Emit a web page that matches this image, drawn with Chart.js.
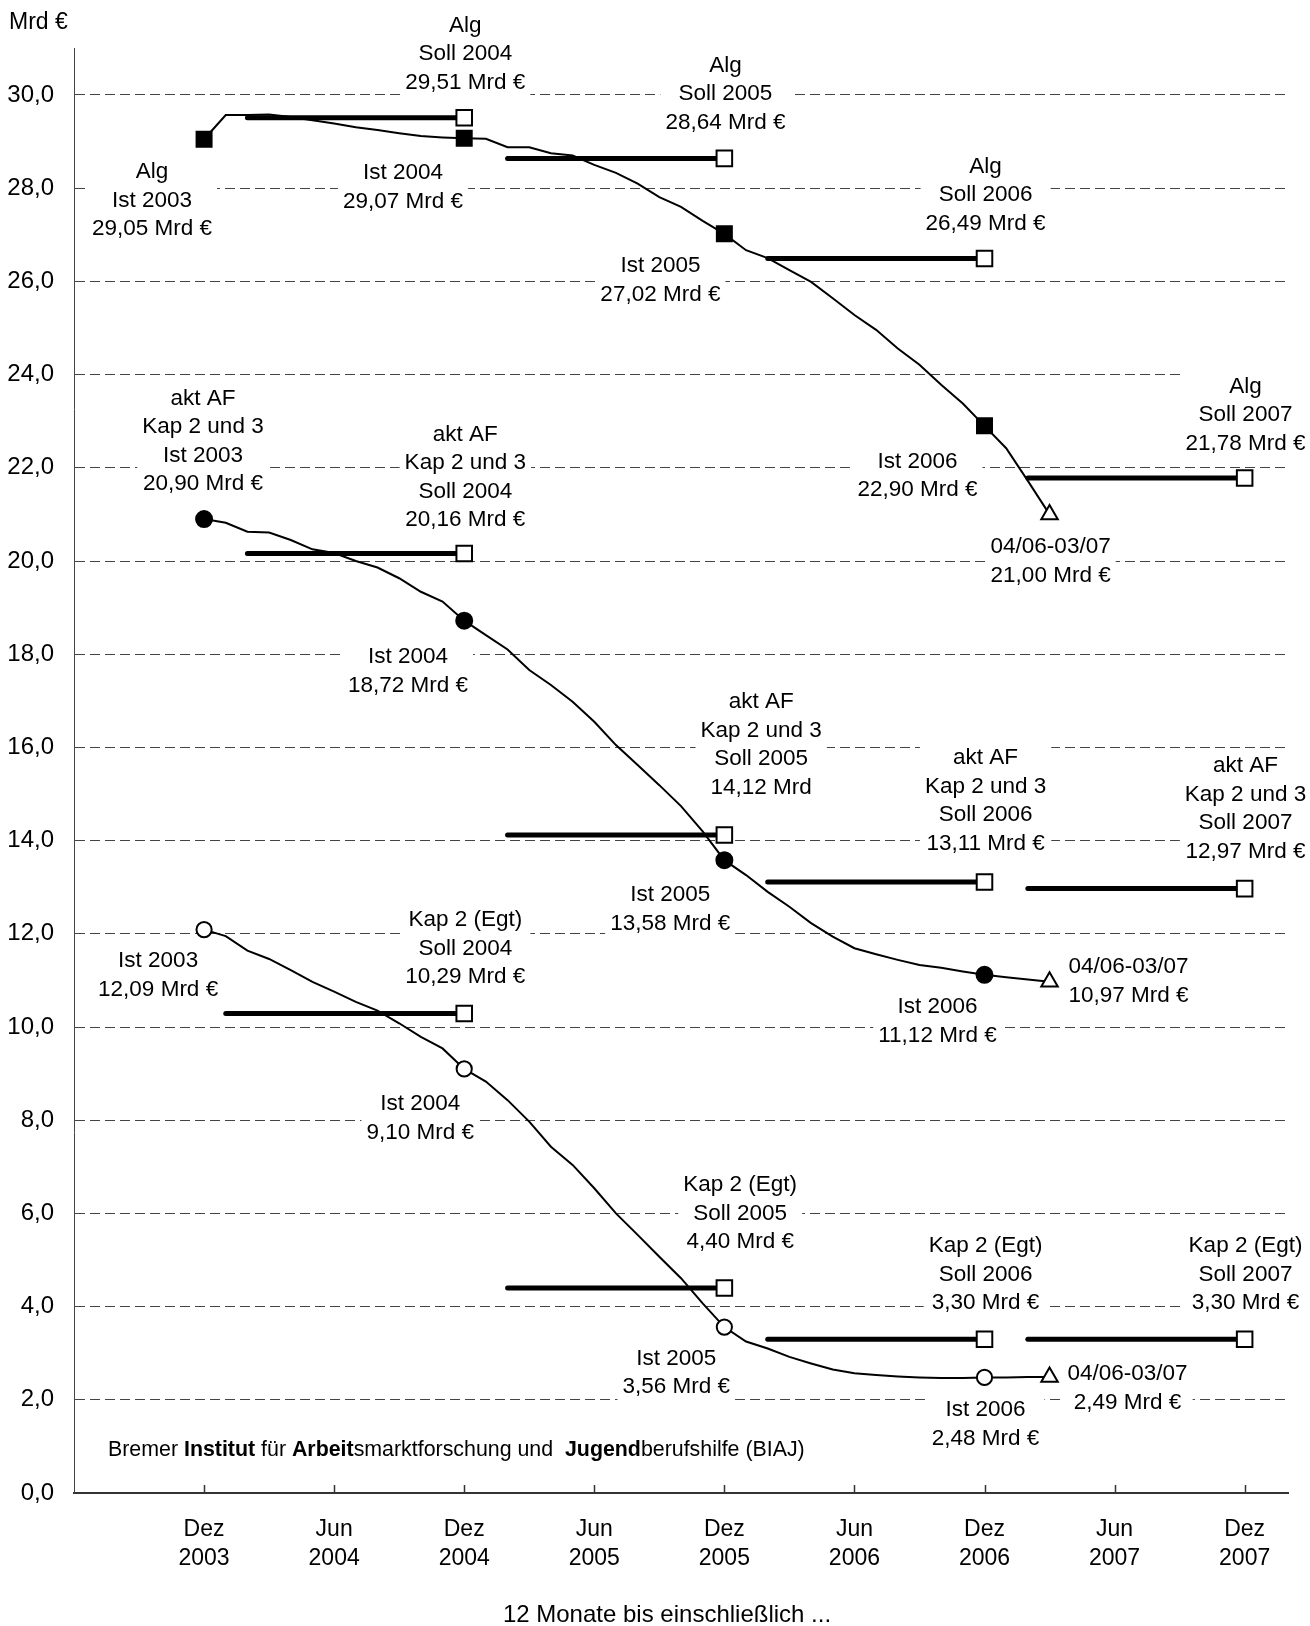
<!DOCTYPE html>
<html>
<head>
<meta charset="utf-8">
<script src="https://cdn.jsdelivr.net/npm/chart.js@4.4.0/dist/chart.umd.min.js"></script>
<style>
  html, body { margin: 0; padding: 0; background: #fff; }
  #wrap { width: 1310px; height: 1626px; }
</style>
</head>
<body>
<div id="wrap"><canvas id="chart" width="1310" height="1626"></canvas></div>
<script>
// 12-Monats-Summen in Mrd €, Index 0 = Dez 2003 ... 39 = Mär 2007
const algIst = [
  29.05, 29.57, 29.57, 29.58, 29.53, 29.46, 29.39, 29.31, 29.25, 29.18, 29.12, 29.09,
  29.07, 29.06, 28.88, 28.88, 28.75, 28.70, 28.50, 28.33, 28.10, 27.81, 27.60, 27.30,
  27.02, 26.67, 26.50, 26.24, 25.99, 25.64, 25.28, 24.96, 24.56, 24.21, 23.78, 23.38,
  22.90, 22.42, 21.72, 21.00
];
const aktIst = [
  20.90, 20.82, 20.63, 20.61, 20.45, 20.25, 20.17, 20.00, 19.86, 19.63, 19.34, 19.13,
  18.72, 18.41, 18.10, 17.66, 17.34, 16.98, 16.55, 16.05, 15.62, 15.19, 14.74, 14.20,
  13.58, 13.26, 12.90, 12.58, 12.23, 11.94, 11.69, 11.56, 11.44, 11.33, 11.27, 11.19,
  11.12, 11.07, 11.02, 10.97
];
const kapIst = [
  12.09, 11.95, 11.64, 11.46, 11.22, 10.97, 10.76, 10.54, 10.35, 10.08, 9.79, 9.54,
  9.10, 8.83, 8.43, 7.97, 7.43, 7.04, 6.54, 6.00, 5.54, 5.07, 4.61, 4.07,
  3.56, 3.25, 3.10, 2.92, 2.78, 2.65, 2.57, 2.53, 2.50, 2.48, 2.47, 2.47,
  2.48, 2.48, 2.49, 2.49
];

// Soll-Werte: Strich von Start- bis Endmonat
const sollEnd = [12, 24, 36, 48];
const algSollStart = [2, 14, 26, 38];
const aktSollStart = [2, 14, 26, 38];
const kapSollStart = [1, 14, 26, 38];
const algSoll = [29.51, 28.64, 26.49, 21.78];
const aktSoll = [20.16, 14.12, 13.11, 12.97];
const kapSoll = [10.29, 4.40, 3.30, 3.30];

const keyMonths = [0, 12, 24, 36];
const lastMonth = 39;

const xTickLabels = [
  ["Dez", "2003"], ["Jun", "2004"], ["Dez", "2004"], ["Jun", "2005"], ["Dez", "2005"],
  ["Jun", "2006"], ["Dez", "2006"], ["Jun", "2007"], ["Dez", "2007"]
];
const yTicks = [0, 2, 4, 6, 8, 10, 12, 14, 16, 18, 20, 22, 24, 26, 28, 30];

// Beschriftungen (x in Monaten, y = erste Zeile in Mrd €)
const notes = [
  { x: -2.40, y: 28.35, lines: ["Alg", "Ist 2003", "29,05 Mrd €"] },
  { x: 12.05, y: 31.49, lines: ["Alg", "Soll 2004", "29,51 Mrd €"] },
  { x: 9.18, y: 28.33, lines: ["Ist 2004", "29,07 Mrd €"] },
  { x: 24.05, y: 30.63, lines: ["Alg", "Soll 2005", "28,64 Mrd €"] },
  { x: 21.05, y: 26.33, lines: ["Ist 2005", "27,02 Mrd €"] },
  { x: 36.05, y: 28.47, lines: ["Alg", "Soll 2006", "26,49 Mrd €"] },
  { x: 32.91, y: 22.13, lines: ["Ist 2006", "22,90 Mrd €"] },
  { x: 39.05, y: 20.30, lines: ["04/06-03/07", "21,00 Mrd €"] },
  { x: 48.04, y: 23.74, lines: ["Alg", "Soll 2007", "21,78 Mrd €"] },

  { x: -0.05, y: 23.49, lines: ["akt AF", "Kap 2 und 3", "Ist 2003", "20,90 Mrd €"] },
  { x: 12.05, y: 22.71, lines: ["akt AF", "Kap 2 und 3", "Soll 2004", "20,16 Mrd €"] },
  { x: 9.41, y: 17.94, lines: ["Ist 2004", "18,72 Mrd €"] },
  { x: 25.70, y: 16.97, lines: ["akt AF", "Kap 2 und 3", "Soll 2005", "14,12 Mrd"] },
  { x: 21.50, y: 12.83, lines: ["Ist 2005", "13,58 Mrd €"] },
  { x: 36.05, y: 15.77, lines: ["akt AF", "Kap 2 und 3", "Soll 2006", "13,11 Mrd €"] },
  { x: 33.83, y: 10.43, lines: ["Ist 2006", "11,12 Mrd €"] },
  { x: 42.64, y: 11.29, lines: ["04/06-03/07", "10,97 Mrd €"] },
  { x: 48.04, y: 15.60, lines: ["akt AF", "Kap 2 und 3", "Soll 2007", "12,97 Mrd €"] },

  { x: -2.12, y: 11.42, lines: ["Ist 2003", "12,09 Mrd €"] },
  { x: 12.05, y: 12.30, lines: ["Kap 2 (Egt)", "Soll 2004", "10,29 Mrd €"] },
  { x: 9.97, y: 8.35, lines: ["Ist 2004", "9,10 Mrd €"] },
  { x: 24.73, y: 6.61, lines: ["Kap 2 (Egt)", "Soll 2005", "4,40 Mrd €"] },
  { x: 21.78, y: 2.88, lines: ["Ist 2005", "3,56 Mrd €"] },
  { x: 36.05, y: 5.30, lines: ["Kap 2 (Egt)", "Soll 2006", "3,30 Mrd €"] },
  { x: 36.05, y: 1.78, lines: ["Ist 2006", "2,48 Mrd €"] },
  { x: 42.60, y: 2.55, lines: ["04/06-03/07", "2,49 Mrd €"] },
  { x: 48.04, y: 5.30, lines: ["Kap 2 (Egt)", "Soll 2007", "3,30 Mrd €"] }
];

const FONT = '"Liberation Sans", Arial, sans-serif';
const LINE_H = 28.5;

function istDataset(values, style, fill, size) {
  return {
    data: values.map((v, i) => ({ x: i, y: v })),
    borderColor: "#000",
    borderWidth: 2,
    tension: 0,
    pointStyle: c => c.dataIndex === lastMonth ? "triangle" : style,
    pointRadius: c => keyMonths.includes(c.dataIndex) ? size : (c.dataIndex === lastMonth ? 9.5 : 0),
    pointBackgroundColor: c => c.dataIndex === lastMonth ? "#fff" : fill,
    pointBorderColor: "#000",
    pointBorderWidth: 2
  };
}

function sollDatasets(starts, values) {
  return values.map((v, i) => ({
    data: [{ x: starts[i], y: v }, { x: sollEnd[i], y: v }],
    borderColor: "#000",
    borderWidth: 5,
    borderCapStyle: "round",
    pointStyle: "rect",
    pointRadius: [0, 11],
    pointBackgroundColor: "#fff",
    pointBorderColor: "#000",
    pointBorderWidth: 2
  }));
}

const datasets = [
  ...sollDatasets(algSollStart, algSoll),
  ...sollDatasets(aktSollStart, aktSoll),
  ...sollDatasets(kapSollStart, kapSoll),
  istDataset(algIst, "rect", "#000", 10.6),
  istDataset(aktIst, "circle", "#000", 8),
  istDataset(kapIst, "circle", "#fff", 7.6)
];

const annotations = {
  id: "annotations",
  beforeDatasetsDraw(chart) {
    const { ctx, scales: { x, y } } = chart;
    ctx.save();
    ctx.font = "22.5px " + FONT;
    ctx.textAlign = "center";
    ctx.textBaseline = "middle";
    notes.forEach(n => {
      const cx = x.getPixelForValue(n.x);
      const cy = y.getPixelForValue(n.y);
      const w = Math.max(...n.lines.map(t => ctx.measureText(t).width));
      ctx.fillStyle = "#fff";
      ctx.fillRect(cx - w / 2 - 5, cy - LINE_H / 2 + 1, w + 10, n.lines.length * LINE_H - 2);
      ctx.fillStyle = "#000";
      n.lines.forEach((t, i) => ctx.fillText(t, cx, cy + i * LINE_H));
    });
    ctx.restore();
  },
  afterDraw(chart) {
    const { ctx, chartArea, scales: { x } } = chart;
    ctx.save();
    // kleine Teilstriche nach innen
    ctx.strokeStyle = "#333";
    ctx.lineWidth = 1.5;
    xTickLabels.forEach((l, i) => {
      const px = Math.round(x.getPixelForValue(i * 6)) + 0.5;
      ctx.beginPath();
      ctx.moveTo(px, chartArea.bottom);
      ctx.lineTo(px, chartArea.bottom - 8);
      ctx.stroke();
    });

    ctx.fillStyle = "#000";
    ctx.textBaseline = "middle";
    ctx.font = "23px " + FONT;
    ctx.textAlign = "left";
    ctx.fillText("Mrd €", 9, 23);

    ctx.font = "24px " + FONT;
    ctx.textAlign = "center";
    ctx.fillText("12 Monate bis einschließlich ...", 667, 1615);

    // Quelle mit fett gesetzten Wortteilen
    const parts = [
      ["Bremer ", false], ["Institut", true], [" für ", false], ["Arbeit", true],
      ["smarktforschung und  ", false], ["Jugend", true], ["berufshilfe (BIAJ)", false]
    ];
    const measure = size => parts.reduce((s, p) => {
      ctx.font = (p[1] ? "bold " : "") + size + "px " + FONT;
      return s + ctx.measureText(p[0]).width;
    }, 0);
    const size = 20 * 697 / measure(20);
    ctx.textAlign = "left";
    let px = 108;
    parts.forEach(p => {
      ctx.font = (p[1] ? "bold " : "") + size + "px " + FONT;
      ctx.fillText(p[0], px, 1450);
      px += ctx.measureText(p[0]).width;
    });
    ctx.restore();
  }
};

new Chart(document.getElementById("chart"), {
  type: "line",
  data: { datasets },
  plugins: [annotations],
  options: {
    responsive: false,
    animation: false,
    events: [],
    layout: { padding: { left: 0, right: 22, top: 48.4, bottom: 0 } },
    plugins: { legend: { display: false }, tooltip: { enabled: false } },
    scales: {
      x: {
        type: "linear",
        min: -6,
        max: 50,
        afterBuildTicks: s => { s.ticks = xTickLabels.map((l, i) => ({ value: i * 6 })); },
        afterFit: s => { s.height = 133; },
        ticks: {
          callback: v => xTickLabels[Math.round(v / 6)],
          font: { family: FONT, size: 23, lineHeight: 1.26 },
          color: "#000",
          padding: 22,
          maxRotation: 0,
          autoSkip: false
        },
        grid: { display: false, drawTicks: false },
        border: { display: true, color: "#333", width: 2 }
      },
      y: {
        type: "linear",
        min: 0,
        max: 31,
        afterBuildTicks: s => { s.ticks = yTicks.map(v => ({ value: v })); },
        afterFit: s => { s.width = 74; },
        ticks: {
          callback: v => v.toFixed(1).replace(".", ","),
          font: { family: FONT, size: 24 },
          color: "#000",
          padding: 20
        },
        grid: {
          color: c => (c.tick && c.tick.value === 0) ? "rgba(0,0,0,0)" : "#444",
          lineWidth: 1,
          drawTicks: false
        },
        border: { display: true, color: "#444", width: 1, dash: [10, 5] }
      }
    }
  }
});
</script>
</body>
</html>
